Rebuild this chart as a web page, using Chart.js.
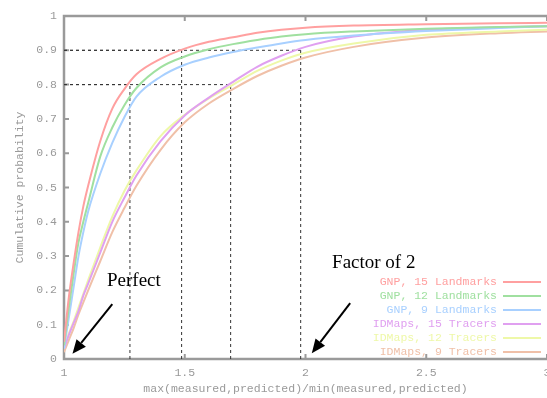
<!DOCTYPE html>
<html>
<head>
<meta charset="utf-8">
<script src="https://cdn.jsdelivr.net/npm/chart.js@4/dist/chart.umd.min.js"></script>
<style>
html,body{margin:0;padding:0;background:#fff;overflow:hidden;}
#wrap{width:560px;height:398px;position:relative;}
</style>
</head>
<body>
<div id="wrap"><canvas id="c"></canvas></div>
<script>
// ---- data ----
const ratio = [1.00, 1.02, 1.04, 1.06, 1.08, 1.10, 1.15, 1.20, 1.25, 1.30, 1.40, 1.50, 1.60, 1.70, 1.80, 1.90, 2.00, 2.20, 2.50, 2.80, 3.00];
const gnp15 = [0.05, 0.18, 0.28, 0.37, 0.445, 0.505, 0.635, 0.73, 0.787, 0.83, 0.875, 0.905, 0.925, 0.938, 0.951, 0.96, 0.966, 0.972, 0.976, 0.979, 0.98];
const gnp12 = [0.04, 0.15, 0.25, 0.34, 0.40, 0.455, 0.59, 0.675, 0.74, 0.79, 0.85, 0.882, 0.903, 0.918, 0.93, 0.94, 0.947, 0.955, 0.963, 0.968, 0.97];
const gnp9  = [0.03, 0.12, 0.21, 0.30, 0.37, 0.43, 0.54, 0.63, 0.705, 0.765, 0.823, 0.858, 0.879, 0.895, 0.908, 0.92, 0.93, 0.943, 0.956, 0.965, 0.97];
const idm15 = [0.03, 0.07, 0.105, 0.14, 0.185, 0.22, 0.31, 0.40, 0.47, 0.535, 0.635, 0.71, 0.762, 0.808, 0.852, 0.884, 0.91, 0.94, 0.96, 0.967, 0.97];
const idm12 = [0.03, 0.075, 0.11, 0.15, 0.19, 0.23, 0.325, 0.415, 0.49, 0.55, 0.65, 0.712, 0.76, 0.80, 0.84, 0.87, 0.893, 0.92, 0.945, 0.955, 0.96];
const idm9  = [0.02, 0.055, 0.09, 0.13, 0.165, 0.20, 0.285, 0.37, 0.44, 0.505, 0.61, 0.69, 0.745, 0.787, 0.825, 0.855, 0.879, 0.91, 0.937, 0.95, 0.955];
const seriesLabels = ["GNP, 15 Landmarks", "GNP, 12 Landmarks", "GNP, 9 Landmarks", "IDMaps, 15 Tracers", "IDMaps, 12 Tracers", "IDMaps, 9 Tracers"];
const seriesColors = ["#ffa0a0", "#a0e0a0", "#a8d0ff", "#e0a0f0", "#eef8a8", "#f0c0a8"];
const refX = [1.273, 1.487, 1.69, 1.98];
const refY = [0.8, 0.9, 0.8, 0.9];
const xTicks = [1, 1.5, 2, 2.5, 3];
const xTickLabels = ["1", "1.5", "2", "2.5", "3"];
const yTicks = [0, 0.1, 0.2, 0.3, 0.4, 0.5, 0.6, 0.7, 0.8, 0.9, 1];
const yTickLabels = ["0", "0.1", "0.2", "0.3", "0.4", "0.5", "0.6", "0.7", "0.8", "0.9", "1"];
const annotations = [
  {text: "Perfect", tx: 1.178, ty: 0.213, from: [1.2, 0.16], to: [1.035, 0.015]},
  {text: "Factor of 2", tx: 2.11, ty: 0.265, from: [2.185, 0.163], to: [2.026, 0.017]}
];

const allSeries = [gnp15, gnp12, gnp9, idm15, idm12, idm9];
const MONO = "'Liberation Mono', 'DejaVu Sans Mono', monospace";
const GRAY = "#9a9a9a";

const datasets = allSeries.map((ys, i) => ({
  label: seriesLabels[i],
  data: ratio.map((x, j) => ({x: x, y: ys[j]})),
  borderColor: seriesColors[i],
  borderWidth: 2,
  pointRadius: 0,
  fill: false,
  cubicInterpolationMode: 'monotone'
}));
refX.forEach((x, i) => {
  datasets.push({label: "_v" + i, data: [{x: x, y: 0}, {x: x, y: refY[i]}], borderColor: "#333", borderWidth: 1, borderDash: [3, 3], pointRadius: 0});
  datasets.push({label: "_h" + i, data: [{x: 1, y: refY[i]}, {x: x, y: refY[i]}], borderColor: "#333", borderWidth: 1, borderDash: [3, 3], pointRadius: 0});
});

const framePlugin = {
  id: 'frame',
  beforeDatasetsDraw(chart) {
    const {ctx, chartArea: a, scales: {x, y}} = chart;
    ctx.save();
    ctx.strokeStyle = GRAY;
    ctx.lineWidth = 2.5;
    ctx.beginPath();
    ctx.moveTo(a.right + 5, a.top); ctx.lineTo(a.left, a.top);
    ctx.lineTo(a.left, a.bottom); ctx.lineTo(a.right + 5, a.bottom);
    ctx.stroke();
    ctx.lineWidth = 2;
    ctx.beginPath();
    yTicks.forEach(v => { const py = y.getPixelForValue(v); ctx.moveTo(a.left, py); ctx.lineTo(a.left + 5, py); });
    xTicks.forEach(v => { const px = x.getPixelForValue(v); ctx.moveTo(px, a.bottom); ctx.lineTo(px, a.bottom - 5); ctx.moveTo(px, a.top); ctx.lineTo(px, a.top + 5); });
    ctx.stroke();
    ctx.restore();
  },
  afterDraw(chart) {
    const {ctx, chartArea: a, scales: {x, y}} = chart;
    ctx.save();
    // legend
    ctx.font = "11.5px " + MONO;
    ctx.textAlign = 'right';
    ctx.textBaseline = 'middle';
    seriesLabels.forEach((lab, i) => {
      const py = 282 + i * 14;
      ctx.fillStyle = seriesColors[i];
      ctx.fillText(lab, 497, py);
      ctx.strokeStyle = seriesColors[i];
      ctx.lineWidth = 2;
      ctx.beginPath(); ctx.moveTo(503, py); ctx.lineTo(541, py); ctx.stroke();
    });
    // annotations
    annotations.forEach(an => {
      ctx.fillStyle = '#000';
      ctx.font = "19px 'Liberation Serif', 'DejaVu Serif', serif";
      ctx.textAlign = 'left';
      ctx.textBaseline = 'alphabetic';
      ctx.fillText(an.text, x.getPixelForValue(an.tx), y.getPixelForValue(an.ty));
      const x0 = x.getPixelForValue(an.from[0]), y0 = y.getPixelForValue(an.from[1]);
      const x1 = x.getPixelForValue(an.to[0]), y1 = y.getPixelForValue(an.to[1]);
      const ang = Math.atan2(y1 - y0, x1 - x0);
      const hl = 14, hw = 6;
      const bx = x1 - hl * Math.cos(ang), by = y1 - hl * Math.sin(ang);
      ctx.strokeStyle = '#000';
      ctx.lineWidth = 2;
      ctx.beginPath(); ctx.moveTo(x0, y0); ctx.lineTo(bx, by); ctx.stroke();
      ctx.beginPath();
      ctx.moveTo(x1, y1);
      ctx.lineTo(bx + hw * Math.sin(ang), by - hw * Math.cos(ang));
      ctx.lineTo(bx - hw * Math.sin(ang), by + hw * Math.cos(ang));
      ctx.closePath(); ctx.fill();
    });
    ctx.restore();
  }
};

new Chart(document.getElementById('c'), {
  type: 'line',
  data: {datasets: datasets},
  options: {
    responsive: true,
    maintainAspectRatio: false,
    animation: false,
    layout: {padding: {top: 16, right: 13, left: 0, bottom: 0}},
    plugins: {legend: {display: false}, tooltip: {enabled: false}},
    scales: {
      x: {
        type: 'linear', min: 1, max: 3,
        afterBuildTicks(s) { s.ticks = xTicks.map(v => ({value: v})); },
        afterFit(s) { s.height = 39; },
        grid: {display: false, drawTicks: false},
        border: {display: false},
        ticks: {padding: 7, color: GRAY, font: {family: MONO, size: 11.5}, maxRotation: 0,
          callback: (v) => { const k = xTicks.indexOf(v); return k >= 0 ? xTickLabels[k] : ''; }},
        title: {display: true, text: "max(measured,predicted)/min(measured,predicted)", color: GRAY,
          font: {family: MONO, size: 11.5}, padding: {top: 0, bottom: 2}}
      },
      y: {
        type: 'linear', min: 0, max: 1,
        afterBuildTicks(s) { s.ticks = yTicks.map(v => ({value: v})); },
        afterFit(s) { s.width = 64; },
        grid: {display: false, drawTicks: false},
        border: {display: false},
        ticks: {padding: 7, color: GRAY, font: {family: MONO, size: 11.5},
          callback: (v) => { const k = yTicks.findIndex(t => Math.abs(t - v) < 1e-9); return k >= 0 ? yTickLabels[k] : ''; }},
        title: {display: true, text: "Cumulative probability", color: GRAY,
          font: {family: MONO, size: 11.5}, padding: {top: 13, bottom: 0}}
      }
    }
  },
  plugins: [framePlugin]
});
</script>
</body>
</html>
